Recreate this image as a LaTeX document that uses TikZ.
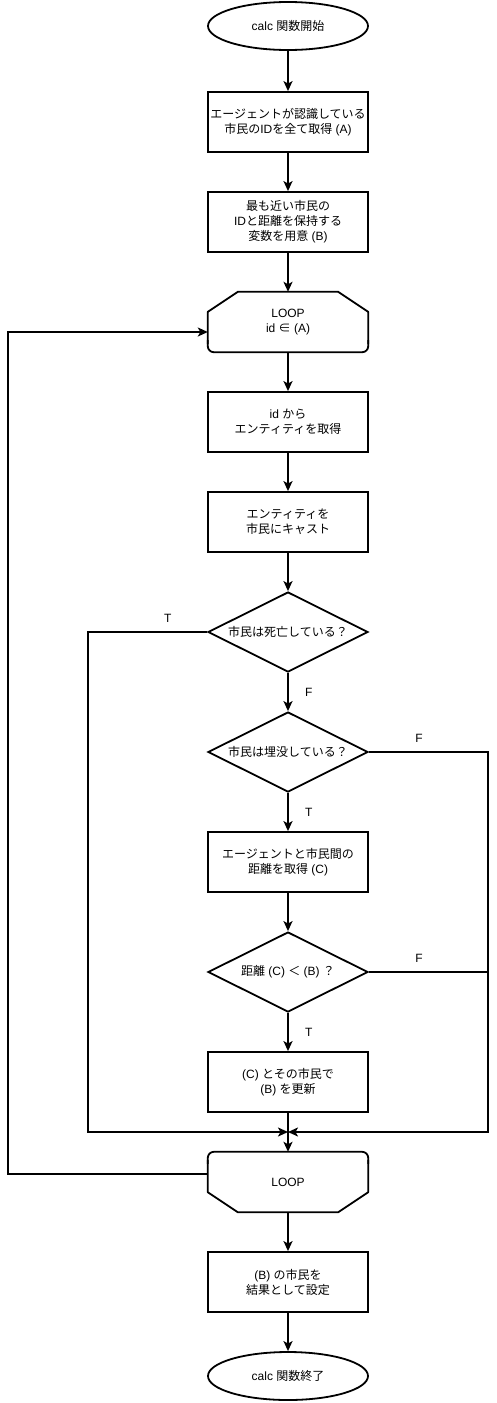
\documentclass[tikz,border=0pt]{standalone}
\usepackage{fontspec}
\setmainfont{Liberation Sans}
\newfontfamily\jpfont{Noto Sans CJK JP}
\newcommand{\jj}[1]{{\jpfont #1}}
\usetikzlibrary{shapes.geometric,arrows.meta,calc}
\tikzset{
  every node/.style={font=\fontsize{12}{15}\selectfont, align=center},
  outl/.style={line width=1.8pt, draw=black},
  box/.style={rectangle, outl, minimum width=160pt, minimum height=60pt, inner sep=0pt},
  term/.style={ellipse, outl, minimum width=160pt, minimum height=48pt, inner sep=0pt},
  dec/.style={diamond, outl, minimum width=160pt, minimum height=80pt, inner sep=0pt, shape aspect=2},
  loopbox/.style={rectangle, minimum width=160pt, minimum height=60pt, inner sep=0pt},
  conn/.style={line width=1.8pt, -{Stealth[length=10pt,width=9pt,inset=2.5pt]}},
  plain/.style={line width=1.8pt},
  lbl/.style={font=\fontsize{12}{14}\selectfont}
}
\begin{document}
\begin{tikzpicture}[x=1pt,y=-1pt]
\useasboundingbox (0,0) rectangle (497,1403);
\node[term] (start) at (288,26) {calc \jj{関数開始}};
\node[box] (b1) at (288,122) {\jj{エージェントが認識している}\\\jj{市民の}ID\jj{を全て取得} (A)};
\node[box] (b2) at (288,222) {\jj{最も近い市民の}\\ID\jj{と距離を保持する}\\\jj{変数を用意} (B)};
\node[loopbox] (l1) at (288,322) {LOOP\\id \jj{∈} (A)};
\node[box] (b3) at (288,422) {id \jj{から}\\\jj{エンティティを取得}};
\node[box] (b4) at (288,522) {\jj{エンティティを}\\\jj{市民にキャスト}};
\node[dec] (d1) at (288,632) {\jj{市民は死亡している？}};
\node[dec] (d2) at (288,752) {\jj{市民は埋没している？}};
\node[box] (b5) at (288,862) {\jj{エージェントと市民間の}\\\jj{距離を取得} (C)};
\node[dec] (d3) at (288,972) {\jj{距離} (C) \jj{＜} (B) \jj{？}};
\node[box] (b6) at (288,1082) {(C) \jj{とその市民で}\\(B) \jj{を更新}};
\coordinate (m) at (288,1132);
\node[loopbox] (l2) at (288,1182) {LOOP};
\node[box] (b7) at (288,1282) {(B) \jj{の市民を}\\\jj{結果として設定}};
\node[term] (end) at (288,1376) {calc \jj{関数終了}};
% loop start shape (cut top corners, rounded bottom)
\draw[outl, line join=round] ($(l1.south west)+(0,-8)$) -- ($(l1.north west)+(0,20)$) -- ($(l1.north west)+(30,0)$) -- ($(l1.north east)+(-30,0)$) -- ($(l1.north east)+(0,20)$) -- ($(l1.south east)+(0,-8)$);
\draw[outl, rounded corners=6pt] ($(l1.south east)+(0,-12)$) -- (l1.south east) -- (l1.south west) -- ($(l1.south west)+(0,-12)$);
% loop end shape (rounded top, cut bottom corners)
\draw[outl, line join=round] ($(l2.north west)+(0,8)$) -- ($(l2.south west)+(0,-20)$) -- ($(l2.south west)+(30,0)$) -- ($(l2.south east)+(-30,0)$) -- ($(l2.south east)+(0,-20)$) -- ($(l2.north east)+(0,8)$);
\draw[outl, rounded corners=6pt] ($(l2.north east)+(0,12)$) -- (l2.north east) -- (l2.north west) -- ($(l2.north west)+(0,12)$);
% connectors
\draw[conn] (start) -- (b1);
\draw[conn] (b1) -- (b2);
\draw[conn] (b2) -- (l1.north);
\draw[conn] (l1.south) -- (b3);
\draw[conn] (b3) -- (b4);
\draw[conn] (b4) -- (d1);
\draw[conn] (d1) -- node[lbl, right, xshift=13pt] {F} (d2);
\draw[conn] (d2) -- node[lbl, right, xshift=13pt] {T} (b5);
\draw[conn] (b5) -- (d3);
\draw[conn] (d3) -- node[lbl, right, xshift=13pt] {T} (b6);
\draw[plain] (b6) -- (m);
\draw[conn] (m) -- (l2.north);
\draw[conn] (l2.south) -- (b7);
\draw[conn] (b7) -- (end);
\draw[conn] (d1.west) -- node[lbl, above, pos=0.33, yshift=5pt] {T} (88,632) -- (88,1132) -- (m);
\draw[conn] (d2.east) -- node[lbl, above, pos=0.42, yshift=5pt] {F} (488,752) -- (488,1132) -- (m);
\draw[plain] (d3.east) -- node[lbl, above, pos=0.42, yshift=5pt] {F} (488,972);
\draw[conn] ([yshift=8pt]l2.west) -- (8,1174) -- (8,332) -- ([yshift=-10pt]l1.west);
\end{tikzpicture}
\end{document}
